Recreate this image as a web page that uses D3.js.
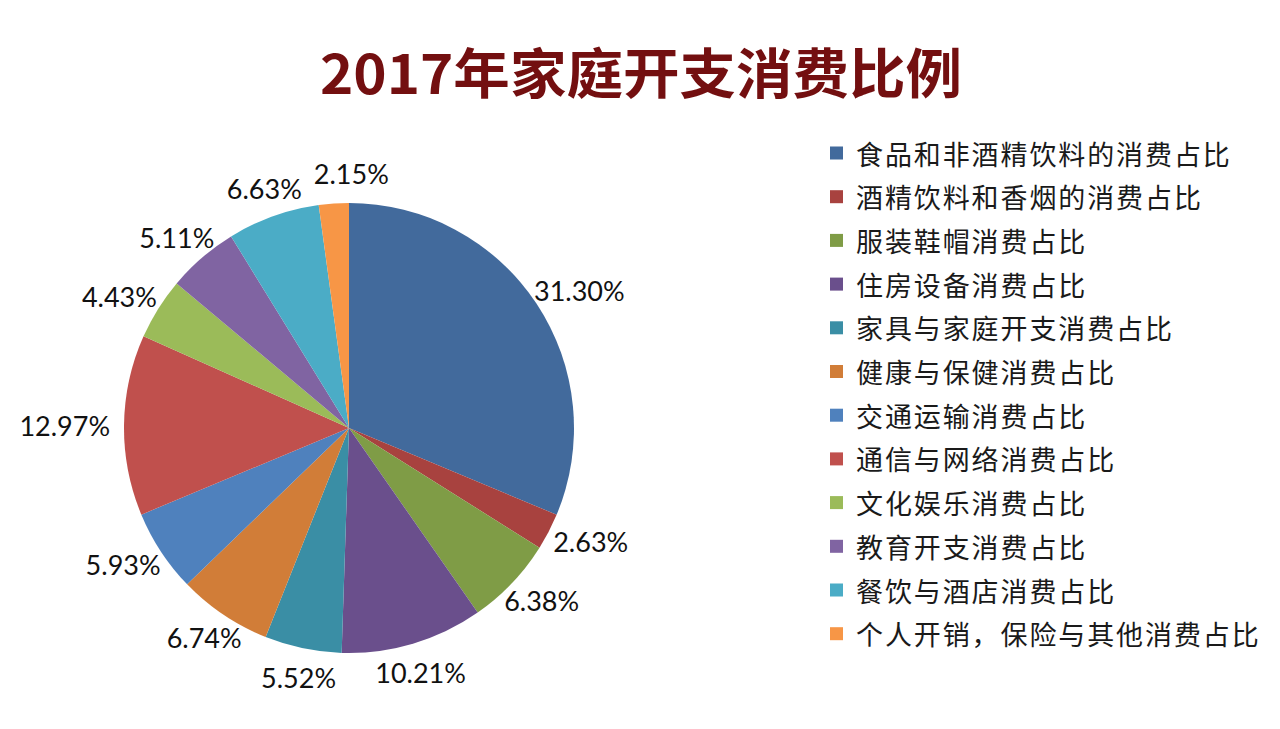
<!DOCTYPE html>
<html>
<head>
<meta charset="utf-8">
<script src="https://cdn.jsdelivr.net/npm/d3@7"></script>
<style>
  body { margin: 0; background: #fff; }
  svg { display: block; }
</style>
</head>
<body>
<div id="chart"></div>
<script>
// chart data
var titleText = "2017年家庭开支消费比例";
var categories = [
    "食品和非酒精饮料的消费占比",
    "酒精饮料和香烟的消费占比",
    "服装鞋帽消费占比",
    "住房设备消费占比",
    "家具与家庭开支消费占比",
    "健康与保健消费占比",
    "交通运输消费占比",
    "通信与网络消费占比",
    "文化娱乐消费占比",
    "教育开支消费占比",
    "餐饮与酒店消费占比",
    "个人开销，保险与其他消费占比"
];
var shares = [31.30, 2.63, 6.38, 10.21, 5.52, 6.74, 5.93, 12.97, 4.43, 5.11, 6.63, 2.15];
var sliceColors = ["#426a9c", "#a8423f", "#7f9c46", "#6a4f8c", "#3a8ea5", "#d17d38",
                   "#4f81bd", "#c0504d", "#9bbb59", "#8064a2", "#4bacc6", "#f79646"];

var width = 1280, height = 729;
var cx = 349, cy = 428, radius = 225;
var labelGap = 12; // min space between neighbouring labels

var svg = d3.select("#chart")
    .append("svg")
        .attr("width", width)
        .attr("height", height);

svg.append("rect")
    .attr("width", width)
    .attr("height", height)
    .attr("fill", "#ffffff");

// title
svg.append("text")
    .attr("x", 320)
    .attr("y", 94)
    .attr("textLength", 642)
    .attr("lengthAdjust", "spacingAndGlyphs")
    .style("font-family", "'Noto Sans CJK SC', sans-serif")
    .style("font-weight", 700)
    .style("font-size", "54px")
    .style("fill", "#730f10")
    .text(titleText);

var color = d3.scaleOrdinal().domain(categories).range(sliceColors);

var pie = d3.pie().sort(null).value(d => d.value);
var arc = d3.arc().innerRadius(0).outerRadius(radius);

var data = categories.map((c, i) => ({name: c, value: shares[i]}));
var arcs = pie(data);

var pieGroup = svg.append("g")
    .attr("transform", "translate(" + cx + "," + cy + ")");

pieGroup.selectAll("path")
    .data(arcs)
    .enter()
    .append("path")
        .attr("d", arc)
        .attr("fill", d => color(d.data.name));

// labels sit just outside the rim, pushed out by half their box
var labelGroup = pieGroup.append("g");
var placed = [];
labelGroup.selectAll("text")
    .data(arcs)
    .enter()
    .append("text")
        .style("font-family", "Lato, 'Open Sans', sans-serif")
        .style("font-size", "27px")
        .style("fill", "#111")
        .attr("text-anchor", "middle")
        .attr("dominant-baseline", "central")
        .text(d => d.data.value.toFixed(2) + "%")
        .each(function (d) {
            let box = this.getBBox();
            let a = (d.startAngle + d.endAngle) / 2;
            let r = radius + 14;
            let x = Math.sin(a) * (r + box.width / 2 * Math.abs(Math.sin(a)));
            let y = -Math.cos(a) * (r + box.height / 2 * Math.abs(Math.cos(a)));
            // nudge sideways if it runs into the previous label
            if (placed.length) {
                let p = placed[placed.length - 1];
                let needX = (p.w + box.width) / 2 + labelGap;
                let overlapY = Math.abs(p.y - y) < (p.h + box.height) / 2;
                if (overlapY && Math.abs(p.x - x) < needX) {
                    x = p.x + (x >= p.x ? needX : -needX);
                }
            }
            placed.push({x: x, y: y, w: box.width, h: box.height});
            d3.select(this).attr("x", x).attr("y", y);
        });

// legend
var legend = svg.append("g")
    .attr("transform", "translate(830,153)");

var rows = legend.selectAll("g")
    .data(categories)
    .enter()
    .append("g")
        .attr("transform", (d, i) => "translate(0," + (i * 43.7) + ")");

rows.append("rect")
    .attr("x", 0)
    .attr("y", -6.5)
    .attr("width", 13)
    .attr("height", 13)
    .attr("fill", d => color(d));

rows.append("text")
    .attr("x", 26)
    .attr("y", 0)
    .attr("dominant-baseline", "central")
    .style("font-family", "'Noto Sans CJK SC', sans-serif")
    .style("font-size", "27px")
    .style("letter-spacing", "1.9px")
    .style("fill", "#1a1a1a")
    .text(d => d);
</script>
</body>
</html>
